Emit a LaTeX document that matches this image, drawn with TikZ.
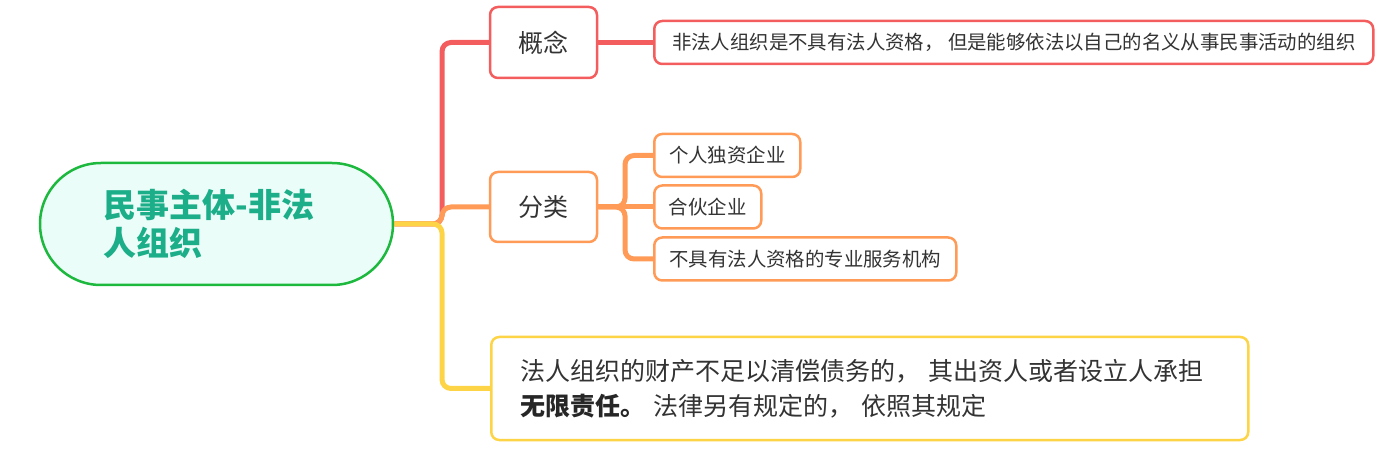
\documentclass[tikz,border=0pt]{standalone}
\usepackage{fontspec}
\setmainfont{Noto Sans CJK SC}
\definecolor{redbranch}{HTML}{F45D5D}
\definecolor{orangebranch}{HTML}{FF9B57}
\definecolor{yellowbranch}{HTML}{FDD446}
\definecolor{rootgreen}{HTML}{1DB83E}
\definecolor{rootfill}{HTML}{EBFDF8}
\definecolor{roottext}{HTML}{1BAE88}
\definecolor{textgray}{HTML}{333333}
\tikzset{
  topic/.style={draw, line width=2.5pt, rounded corners=8pt, fill=white, text=textgray, inner sep=0pt},
  leaf/.style={topic, anchor=west, minimum height=43pt, font=\fontsize{19.4}{23}\selectfont},
  branch/.style={line width=5pt, rounded corners=9pt}
}
\begin{document}
\begin{tikzpicture}[x=1pt,y=-1pt]
\useasboundingbox (0,0) rectangle (1385,454);

	\node[draw=rootgreen, fill=rootfill, line width=2.5pt, rounded corners=61pt, minimum width=353pt, minimum height=122pt, text width=226pt, align=left, text=roottext, font=\fontsize{33}{38}\selectfont\bfseries] (root) at (216.5,224) {民事主体-非法\\人组织};

	\node[topic, draw=redbranch, minimum width=107pt, minimum height=71pt, font=\fontsize{25}{30}\selectfont] (concept) at (543.5,42.5) {概念};
	\node[leaf, draw=redbranch, minimum width=719pt] (conceptdef) at (653,42.5) {非法人组织是不具有法人资格， 但是能够依法以自己的名义从事民事活动的组织};

	\node[topic, draw=orangebranch, minimum width=107pt, minimum height=70pt, font=\fontsize{25}{30}\selectfont] (classify) at (543.5,207) {分类};
	\node[leaf, draw=orangebranch, minimum width=146pt] (sole) at (653,155.5) {个人独资企业};
	\node[leaf, draw=orangebranch, minimum width=107pt] (partner) at (653,207) {合伙企业};
	\node[leaf, draw=orangebranch, minimum width=302pt] (service) at (653,259) {不具有法人资格的专业服务机构};

	\node[topic, draw=yellowbranch, anchor=west, inner xsep=29pt, text width=699pt, minimum height=103pt, align=left, font=\fontsize{25}{35}\selectfont] (liability) at (490,388.5) {法人组织的财产不足以清偿债务的， 其出资人或者设立人承担\\{\bfseries\color{black!85}无限责任。} 法律另有规定的， 依照其规定};

	\coordinate (hub) at (442,224);
	\coordinate (fork) at (625,207);
	\draw[branch, redbranch] (root.east) -- (hub) |- (concept.west);
	\draw[branch, redbranch] (concept.east) -- (conceptdef.west);
	\draw[branch, orangebranch] (root.east) -- (hub) |- (classify.west);
	\draw[branch, orangebranch] (classify.east) -- (fork) |- (sole.west);
	\draw[branch, orangebranch] (classify.east) -- (partner.west);
	\draw[branch, orangebranch] (classify.east) -- (fork) |- (service.west);
	\draw[branch, yellowbranch] (root.east) -- (hub) |- (liability.west);

\end{tikzpicture}
\end{document}
